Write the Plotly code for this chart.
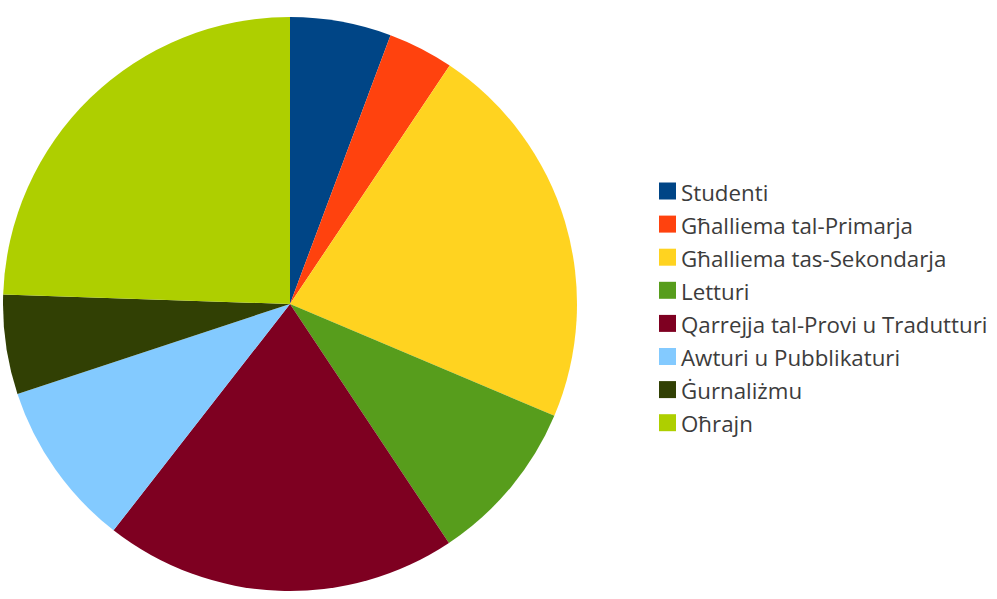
import plotly.graph_objects as go

categories = ["Studenti", "Għalliema tal-Primarja", "Għalliema tas-Sekondarja", "Letturi",
              "Qarrejja tal-Provi u Tradutturi", "Awturi u Pubblikaturi", "Ġurnaliżmu", "Oħrajn"]
values = [5.7, 3.7, 22.0, 9.3, 19.9, 9.4, 5.6, 24.5]
colors = ["#004586", "#ff420e", "#ffd320", "#579d1c", "#7e0021", "#83caff", "#314004", "#aecf00"]

W, H = 997, 599

fig = go.Figure(go.Pie(
    labels=categories, values=values, sort=False, direction="clockwise", rotation=0,
    marker=dict(colors=colors, line=dict(width=0)), textinfo="none", hoverinfo="label+percent",
    domain=dict(x=[3 / W, 577 / W], y=[1 - 594 / H, 1 - 14 / H]),
    showlegend=False,
))

# legend drawn as swatches + text
x0, y0, gap, sq = 659, 191, 33.1, 17
shapes, annotations = [], []
for i, (lab, col) in enumerate(zip(categories, colors)):
    cy = y0 + i * gap
    shapes.append(dict(type="rect", xref="paper", yref="paper",
                       x0=x0 / W, x1=(x0 + sq) / W,
                       y0=1 - (cy + sq / 2) / H, y1=1 - (cy - sq / 2) / H,
                       fillcolor=col, line=dict(width=0)))
    annotations.append(dict(xref="paper", yref="paper", x=(x0 + sq + 3) / W, y=1 - (cy + 1) / H,
                            text=lab, showarrow=False, xanchor="left", yanchor="middle",
                            font=dict(family="Open Sans", size=22.3, color="#3c3c3c")))

fig.update_layout(width=W, height=H, margin=dict(l=0, r=0, t=0, b=0),
                  paper_bgcolor="white", plot_bgcolor="white",
                  shapes=shapes, annotations=annotations)
fig.write_html("out.html", config={"displayModeBar": False},
               post_script="document.body.style.margin='0';")
